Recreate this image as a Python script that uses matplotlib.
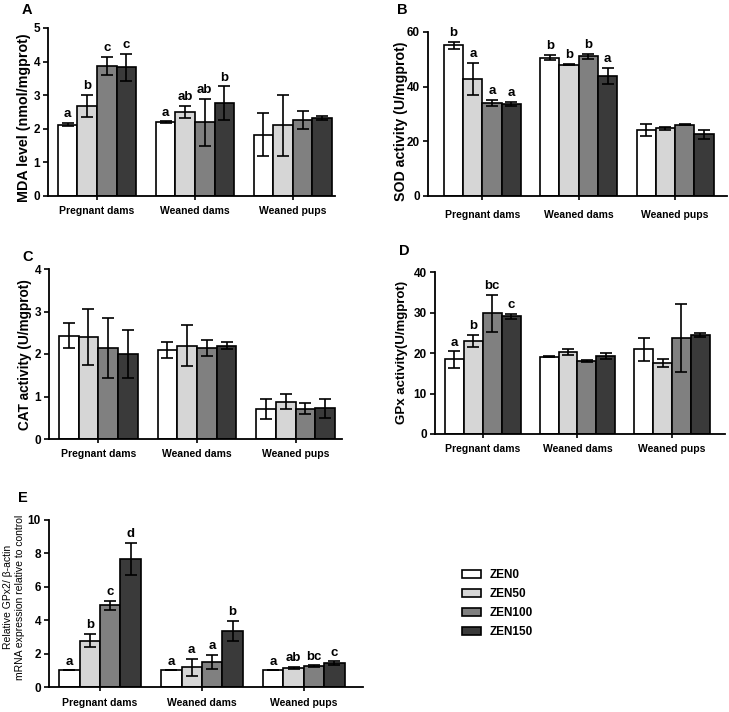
import matplotlib.pyplot as plt
from matplotlib.patches import Patch
import numpy as np

plt.rcParams['font.family'] = ['Liberation Sans', 'DejaVu Sans']
plt.rcParams['font.weight'] = 'bold'

groups = ['Pregnant dams', 'Weaned dams', 'Weaned pups']
treatments = ['ZEN0', 'ZEN50', 'ZEN100', 'ZEN150']
colors = ['#ffffff', '#d6d6d6', '#808080', '#3a3a3a']

# rows = groups, cols = treatments
mda = [[2.12, 2.68, 3.86, 3.83], [2.20, 2.50, 2.20, 2.76], [1.83, 2.10, 2.27, 2.31]]
mda_err = [[0.05, 0.33, 0.27, 0.41], [0.02, 0.19, 0.70, 0.50], [0.65, 0.90, 0.27, 0.06]]
mda_sig = [['a', 'b', 'c', 'c'], ['a', 'ab', 'ab', 'b'], ['', '', '', '']]

sod = [[55.1, 42.9, 34.2, 33.7], [50.6, 48.1, 51.1, 44.0], [24.1, 24.7, 26.0, 22.6]]
sod_err = [[1.2, 5.9, 1.1, 0.7], [0.9, 0.1, 1.0, 3.0], [2.1, 0.7, 0.2, 1.7]]
sod_sig = [['b', 'a', 'a', 'a'], ['b', 'b', 'b', 'a'], ['', '', '', '']]

cat = [[2.43, 2.41, 2.14, 2.00], [2.10, 2.20, 2.15, 2.20], [0.71, 0.88, 0.71, 0.72]]
cat_err = [[0.29, 0.66, 0.70, 0.56], [0.19, 0.49, 0.19, 0.09], [0.23, 0.18, 0.13, 0.23]]

gpx = [[18.4, 22.9, 29.8, 29.1], [19.1, 20.3, 18.1, 19.2], [20.9, 17.5, 23.7, 24.5]]
gpx_err = [[2.0, 1.5, 4.5, 0.6], [0.1, 0.7, 0.2, 0.8], [2.8, 1.0, 8.4, 0.5]]
gpx_sig = [['a', 'b', 'bc', 'c'], ['', '', '', ''], ['', '', '', '']]

gpx2 = [[1.0, 2.78, 4.89, 7.66], [1.0, 1.18, 1.50, 3.37], [1.0, 1.16, 1.24, 1.44]]
gpx2_err = [[0.0, 0.38, 0.26, 0.98], [0.0, 0.52, 0.42, 0.60], [0.0, 0.06, 0.05, 0.10]]
gpx2_sig = [['a', 'b', 'c', 'd'], ['a', 'a', 'a', 'b'], ['a', 'ab', 'bc', 'c']]

W, H = 729, 712
fig = plt.figure(figsize=(W / 100, H / 100), dpi=100)


def px_axes(left, top, right, bottom):
    return fig.add_axes([left / W, 1 - bottom / H, (right - left) / W, (bottom - top) / H])


def panel(ax, box, vals, errs, sig, ylim, yticks, ylabel, xlim, label_xy,
          ylabel_size=10, xpad=5, weight='bold'):
    vals = np.array(vals)
    errs = np.array(errs)
    x = np.arange(len(groups))
    bw = 0.2
    for j in range(len(treatments)):
        xs = x - 0.3 + j * bw
        ax.bar(xs, vals[:, j], bw, color=colors[j], edgecolor='black', linewidth=1.2,
               yerr=errs[:, j], capsize=4, error_kw=dict(elinewidth=1.2, capthick=1.2, ecolor='black'),
               zorder=2)
        if sig is not None:
            for i in range(len(groups)):
                if sig[i][j]:
                    ax.annotate(sig[i][j], (xs[i], vals[i, j] + errs[i, j]), xytext=(0, 2),
                                textcoords='offset points', ha='center', va='bottom',
                                fontsize=9.5, fontweight='bold')
    ax.set_xlim(*xlim)
    ax.set_ylim(*ylim)
    ax.set_yticks(yticks)
    ax.set_xticks(x)
    ax.set_xticklabels(groups, fontsize=7.5, fontweight='bold')
    ax.tick_params(axis='y', labelsize=8.5, width=1.2, length=3.8, pad=2)
    ax.tick_params(axis='x', width=1.2, length=3, pad=xpad)
    for s in ['top', 'right']:
        ax.spines[s].set_visible(False)
    for s in ['left', 'bottom']:
        ax.spines[s].set_linewidth(1.3)
    ax.set_ylabel(ylabel, fontsize=ylabel_size, fontweight=weight, va='center')
    left, top, right, bottom = box
    cx, cy = label_xy
    ax.yaxis.set_label_coords((cx - left) / (right - left), (bottom - cy) / (bottom - top))


boxA = (48, 28, 335, 196)
panel(px_axes(*boxA), boxA, mda, mda_err, mda_sig, (0, 5), range(0, 6),
      'MDA level (nmol/mgprot)', (-0.5, 2.43), (24, 118), ylabel_size=10.3, xpad=4)

boxB = (428, 32, 727, 196)
panel(px_axes(*boxB), boxB, sod, sod_err, sod_sig, (0, 60), range(0, 61, 20),
      'SOD activity (U/mgprot)', (-0.566, 2.54), (401, 121), ylabel_size=10.2, xpad=7)

boxC = (49, 269, 342, 439)
panel(px_axes(*boxC), boxC, cat, cat_err, None, (0, 4), range(0, 5),
      'CAT activity (U/mgprot)', (-0.5, 2.47), (25, 355), ylabel_size=9.8, xpad=4)

boxD = (435, 272, 725, 434)
panel(px_axes(*boxD), boxD, gpx, gpx_err, gpx_sig, (0, 40), range(0, 41, 10),
      'GPx activity(U/mgprot)', (-0.506, 2.56), (402, 352), ylabel_size=9.5, xpad=4)

boxE = (49, 520, 363, 687)
panel(px_axes(*boxE), boxE, gpx2, gpx2_err, gpx2_sig, (0, 10), range(0, 11, 2),
      'Relative GPx2/ β-actin\nmRNA expression relative to control', (-0.5, 2.58), (14, 597),
      ylabel_size=7.5, weight='normal')

fig.text(22 / W, 1 - 10 / H, 'A', fontsize=10.5, fontweight='bold', va='center')
fig.text(397 / W, 1 - 10 / H, 'B', fontsize=10.5, fontweight='bold', va='center')
fig.text(22 / W, 1 - 257 / H, 'C', fontsize=10.5, fontweight='bold', va='center')
fig.text(399 / W, 1 - 251 / H, 'D', fontsize=10.5, fontweight='bold', va='center')
fig.text(18 / W, 1 - 498 / H, 'E', fontsize=10.5, fontweight='bold', va='center')

handles = [Patch(facecolor=c, edgecolor='black', linewidth=1.2) for c in colors]
fig.legend(handles, treatments, loc='upper left', bbox_to_anchor=(456 / W, 1 - 563 / H),
           frameon=False, prop=dict(size=8.5, weight='bold'), handlelength=1.6,
           handleheight=0.7, labelspacing=0.6, handletextpad=0.75, borderpad=0)

fig.savefig('out.png', dpi=100)
